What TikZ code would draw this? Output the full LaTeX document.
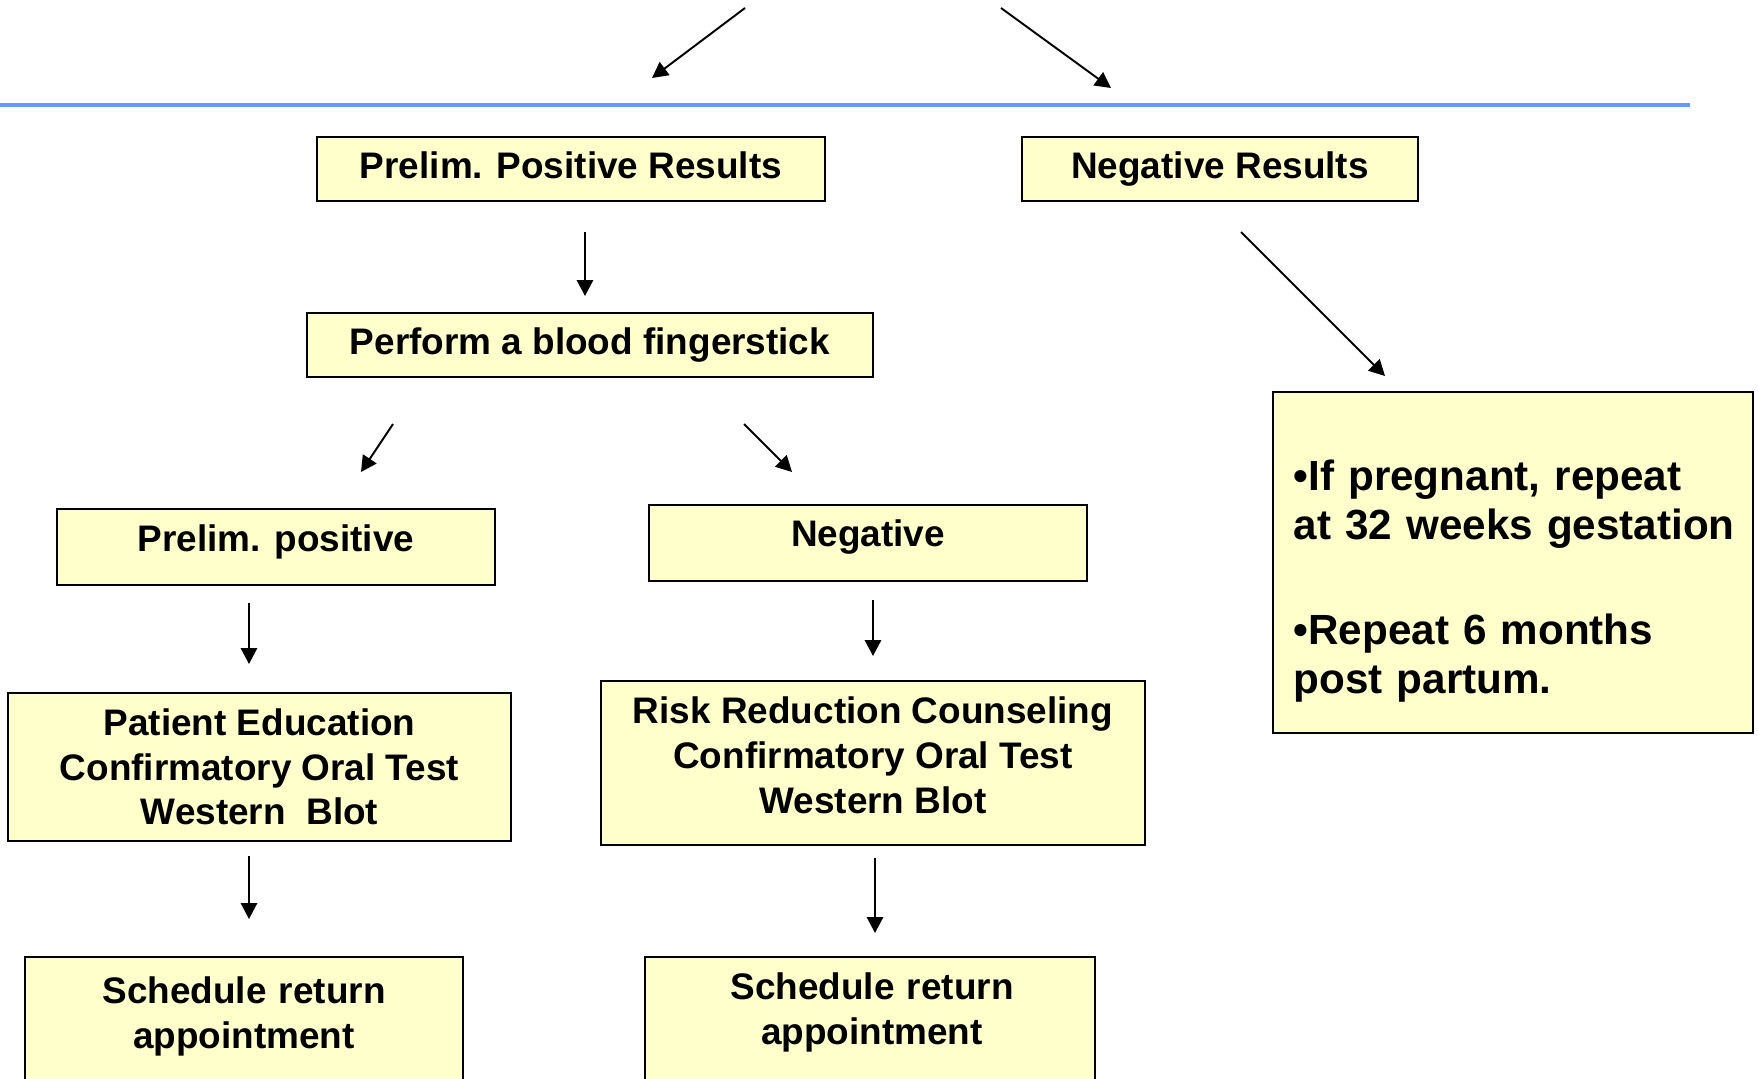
\documentclass[tikz,border=0pt]{standalone}
\usepackage{fontspec}
\setmainfont{Liberation Sans}
\usetikzlibrary{arrows.meta}
\definecolor{boxfill}{RGB}{255,255,204}
\definecolor{lineblue}{RGB}{102,153,255}

\begin{document}
\begin{tikzpicture}[x=0.01cm,y=-0.01cm]
    \tikzstyle{result}=[shape=rectangle,draw,line width=0.6pt,fill=boxfill,inner sep=0pt,align=center,font=\fontsize{10.5}{12.7}\selectfont\bfseries]
    \tikzstyle{note}=[inner sep=0pt,font=\fontsize{10.5}{12.7}\selectfont\bfseries]
    \tikzstyle{flow}=[-{Triangle[length=4.5pt,width=4.6pt]},line width=0.55pt]

    \useasboundingbox (0,0) rectangle (1758,1078);
    \draw[lineblue,line width=1pt] (0,105) -- (1690,105);

    \node[result,minimum width=5.08cm,minimum height=0.64cm,text depth=0.07cm] (prelimres) at (571,169) {Prelim. Positive Results};
    \node[result,minimum width=3.95cm,minimum height=0.64cm] (negres) at (1220,169) {Negative Results};
    \node[result,minimum width=5.65cm,minimum height=0.64cm] (blood) at (590,345) {Perform a blood fingerstick};

    \node[result,minimum width=4.38cm,minimum height=0.76cm,text depth=0.17cm] (prelimpos) at (276,547) {Prelim. positive};
    \node[result,minimum width=4.38cm,minimum height=0.76cm,text depth=0.19cm] (neg) at (868,543) {Negative};

    \node[result,minimum width=5.02cm,minimum height=1.48cm] (patient) at (259.5,767) {Patient Education\\Confirmatory Oral Test\\Western\ \ Blot};
    \node[result,minimum width=5.44cm,minimum height=1.64cm,text depth=0.16cm] (risk) at (873,763) {Risk Reduction Counseling\\Confirmatory Oral Test\\Western Blot};

    \node[result,minimum width=4.38cm,minimum height=2cm,anchor=north] (schedL) at (244,956) {};
    \node[note,text width=4.3cm,align=center,anchor=base] (schedLtext) at (244,1003.5) {Schedule return\\appointment};
    \node[result,minimum width=4.5cm,minimum height=2cm,anchor=north] (schedR) at (870,956) {};
    \node[note,text width=4.4cm,align=center,anchor=base] (schedRtext) at (872,999.5) {Schedule return\\appointment};

    \node[result,minimum width=4.79cm,minimum height=3.4cm] (repeat) at (1513,562.5) {};
    \node[note,font=\fontsize{12}{14.1}\selectfont\bfseries,text width=4.6cm,align=left,anchor=base west] (repeattext) at (1293,490) {•If pregnant, repeat\\at 32 weeks gestation\\[15.6pt]•Repeat 6 months\\post partum.};

    \coordinate (srcL) at (745,8);
    \coordinate (srcR) at (1001,8);
    \coordinate (prelimres-in) at (652,78);
    \coordinate (negres-in) at (1111,88);
    \coordinate (prelimres-out) at (585,232);
    \coordinate (blood-in) at (585,296);
    \coordinate (negres-out) at (1241,232);
    \coordinate (repeat-in) at (1385,376);
    \coordinate (blood-outL) at (393,424);
    \coordinate (prelimpos-in) at (361,472);
    \coordinate (blood-outR) at (744,424);
    \coordinate (neg-in) at (792,472);
    \coordinate (prelimpos-out) at (249,603);
    \coordinate (patient-in) at (249,664);
    \coordinate (neg-out) at (873,600);
    \coordinate (risk-in) at (873,656);
    \coordinate (patient-out) at (249,856);
    \coordinate (schedL-in) at (249,919);
    \coordinate (risk-out) at (875,858);
    \coordinate (schedR-in) at (875,933);

    \path[flow]
    (srcL) edge (prelimres-in)
    (srcR) edge (negres-in)
    (prelimres-out) edge (blood-in)
    (negres-out) edge (repeat-in)
    (blood-outL) edge (prelimpos-in)
    (blood-outR) edge (neg-in)
    (prelimpos-out) edge (patient-in)
    (neg-out) edge (risk-in)
    (patient-out) edge (schedL-in)
    (risk-out) edge (schedR-in)
    ;

\end{tikzpicture}
\end{document}
